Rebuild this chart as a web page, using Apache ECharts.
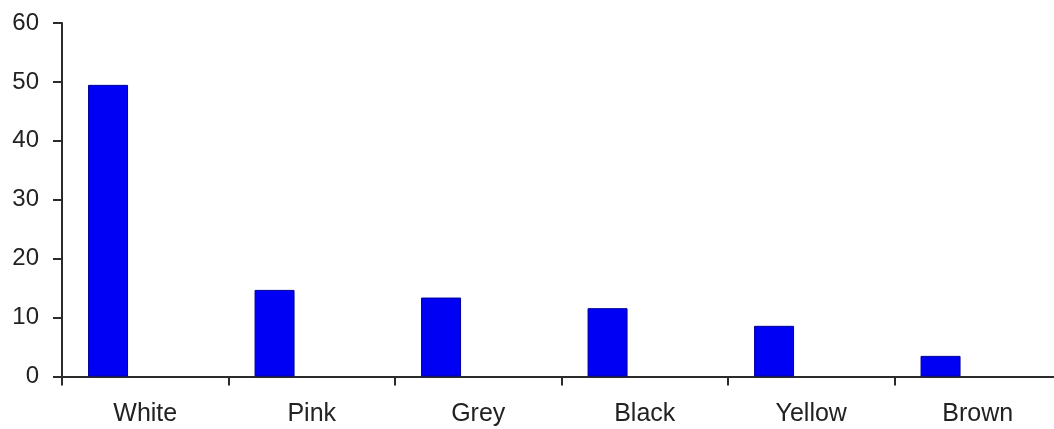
<!DOCTYPE html>
<html>
<head>
<meta charset="utf-8">
<script src="https://cdn.jsdelivr.net/npm/echarts@6/dist/echarts.min.js"></script>
<style>
  html, body { margin: 0; padding: 0; background: #fff; }
  #chart { width: 1054px; height: 429px; }
</style>
</head>
<body>
<div id="chart"></div>
<script>
// Counts per colour
const categories = ['White', 'Pink', 'Grey', 'Black', 'Yellow', 'Brown'];
const counts = [49.5, 14.7, 13.4, 11.6, 8.6, 3.5];
const yTicks = [0, 10, 20, 30, 40, 50, 60];

// An empty companion series keeps each bar in the left part of its slot
const emptySlot = categories.map(() => null);

const chart = echarts.init(document.getElementById('chart'), null, { renderer: 'canvas' });

const axisLine = { show: true, lineStyle: { color: '#2b2b2b', width: 2 } };
const labelFont = { fontFamily: 'Liberation Sans, Arial, sans-serif', color: '#222' };

chart.setOption({
  animation: false,
  backgroundColor: '#ffffff',
  // the plot runs a little past the right edge of the canvas
  grid: { left: 62, width: 999, top: 23, bottom: 52.5, containLabel: false, outerBoundsMode: 'none' },
  xAxis: {
    type: 'category',
    data: categories,
    boundaryGap: true,
    axisLine: axisLine,
    axisTick: { show: true, alignWithLabel: false, length: 9, inside: false, lineStyle: { color: '#2b2b2b', width: 2 } },
    axisLabel: Object.assign({ margin: 25, interval: 0, fontSize: 25 }, labelFont),
    splitLine: { show: false }
  },
  yAxis: {
    type: 'value',
    min: yTicks[0],
    max: yTicks[yTicks.length - 1],
    interval: 10,
    axisLine: axisLine,
    axisTick: { show: true, length: 9, lineStyle: { color: '#2b2b2b', width: 2 } },
    axisLabel: Object.assign({ margin: 23, fontSize: 24 }, labelFont),
    splitLine: { show: false }
  },
  series: [
    {
      type: 'bar',
      name: 'Count',
      data: counts,
      barWidth: 40,
      barGap: '86%',
      itemStyle: { color: '#0000f5', borderColor: '#00009a', borderWidth: 1 }
    },
    {
      type: 'bar',
      name: 'slot',
      data: emptySlot,
      barWidth: 40,
      silent: true
    }
  ]
});
</script>
</body>
</html>
